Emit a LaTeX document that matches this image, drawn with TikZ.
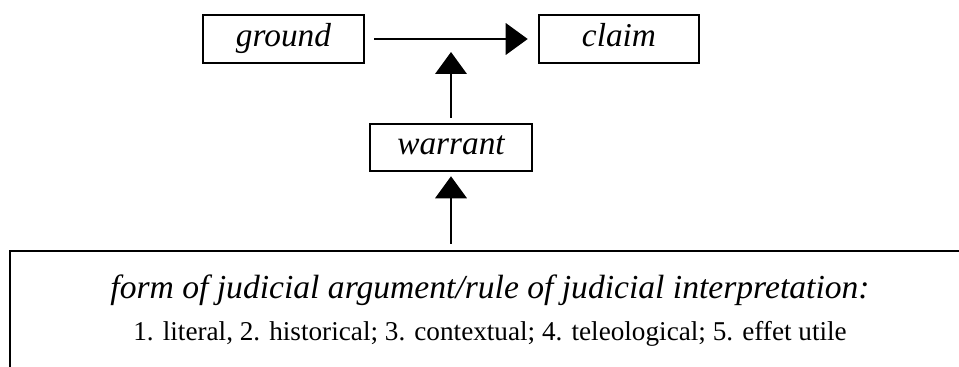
\documentclass[tikz,border=0pt]{standalone}
\usepackage{fontspec}
\setmainfont{Liberation Serif}
\usetikzlibrary{arrows.meta}
\def\u{0.75pt}
\tikzset{
  lbl/.style={draw, line width=1.9pt, inner sep=0pt, minimum height=48*\u,
    text height=22*\u, text depth=7*\u,
    font=\fontsize{25}{30}\selectfont\itshape},
  conn/.style={line width=2pt, -{Triangle[length=16.5pt, width=23.5pt]}},
}
\begin{document}
\begin{tikzpicture}[x=\u, y=-\u]
\useasboundingbox (0,0) rectangle (959,367);
\clip (0,0) rectangle (959,367);
\node[lbl, minimum width=161*\u] (ground) at (283.5,39) {ground};
\node[lbl, minimum width=160*\u] (claim) at (619,39) {claim};
\node[lbl, minimum width=162*\u, minimum height=47*\u] (warrant) at (451,147.5) {warrant};
\node[draw, line width=1.9pt, minimum width=970*\u, minimum height=149*\u, inner sep=0pt] (frame) at (495,325.5) {};
\node[font=\fontsize{25.2}{30}\selectfont\itshape, inner sep=0pt] (rulehead) at (490,290) {form of judicial argument/rule of judicial interpretation:};
\node[font=\fontsize{20.4}{25}\selectfont, inner sep=0pt] (rulelist) at (490,334) {1. literal, 2. historical; 3. contextual; 4. teleological; 5. effet utile};
\coordinate (hline) at (warrant.north |- ground.east);
\draw[conn, shorten <=9*\u, shorten >=10*\u] (ground.east) -- (claim.west);
\draw[conn, shorten <=5*\u, shorten >=13*\u] (warrant.north) -- (hline);
\draw[conn, shorten <=6*\u, shorten >=4*\u] (frame.north -| warrant.south) -- (warrant.south);
\end{tikzpicture}
\end{document}
